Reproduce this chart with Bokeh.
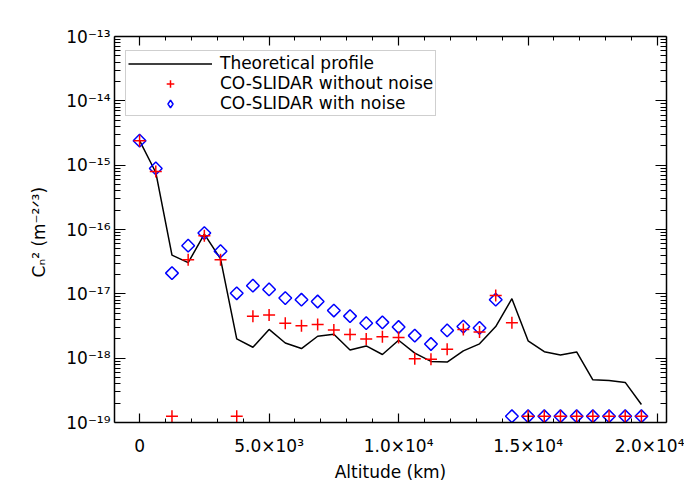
from bokeh.plotting import figure
from bokeh.models import (Range1d, FixedTicker, LogAxis, LinearAxis, Legend, LegendItem,
                          ColumnDataSource, CustomJSTickFormatter)
from bokeh.embed import file_html
from bokeh.resources import INLINE
import math

# ---- data ----
altitude = [0, 625, 1250, 1875, 2500, 3125, 3750, 4375, 5000, 5625, 6250, 6875,
            7500, 8125, 8750, 9375, 10000, 10625, 11250, 11875, 12500, 13125,
            13750, 14375, 15000, 15625, 16250, 16875, 17500, 18125, 18750, 19375]

theoretical = [2.4e-15, 7.7e-16, 4.0e-17, 3.05e-17, 8.5e-17, 3.5e-17, 2.0e-18, 1.48e-18,
               2.8e-18, 1.72e-18, 1.41e-18, 2.19e-18, 2.35e-18, 1.34e-18, 1.55e-18, 1.14e-18,
               1.9e-18, 1.2e-18, 8.9e-19, 8.7e-19, 1.3e-18, 1.67e-18, 3.1e-18, 8.4e-18,
               1.86e-18, 1.26e-18, 1.12e-18, 1.25e-18, 4.6e-19, 4.5e-19, 4.2e-19, 1.9e-19]

without_noise = [2.4e-15, 8.0e-16, 1.25e-19, 3.4e-17, 8.0e-17, 3.4e-17, 1.25e-19, 4.5e-18,
                 4.7e-18, 3.5e-18, 3.2e-18, 3.35e-18, 2.75e-18, 2.33e-18, 1.98e-18, 2.15e-18,
                 2.1e-18, 9.8e-19, 9.6e-19, 1.38e-18, 2.8e-18, 2.55e-18, 9.4e-18, 3.55e-18,
                 1.25e-19, 1.25e-19, 1.25e-19, 1.25e-19, 1.25e-19, 1.25e-19, 1.25e-19, 1.25e-19]

with_noise = [2.4e-15, 8.9e-16, 2.1e-17, 5.6e-17, 8.8e-17, 4.6e-17, 1.02e-17, 1.34e-17,
              1.17e-17, 8.6e-18, 8.1e-18, 7.6e-18, 5.5e-18, 4.5e-18, 3.5e-18, 3.6e-18,
              3.05e-18, 2.24e-18, 1.66e-18, 2.7e-18, 3.1e-18, 2.95e-18, 8.1e-18, 1.25e-19,
              1.25e-19, 1.25e-19, 1.25e-19, 1.25e-19, 1.25e-19, 1.25e-19, 1.25e-19, 1.25e-19]

x_ticks = [0, 5000, 10000, 15000, 20000]
x_tick_labels = ["0", "5.0×10³", "1.0×10⁴", "1.5×10⁴", "2.0×10⁴"]
y_exponents = [-19, -18, -17, -16, -15, -14, -13]
y_tick_labels = ["10⁻¹⁹", "10⁻¹⁸", "10⁻¹⁷", "10⁻¹⁶", "10⁻¹⁵", "10⁻¹⁴", "10⁻¹³"]

FONT = "DejaVu Sans"

src = ColumnDataSource(dict(alt=altitude, th=theoretical, nn=without_noise, wn=with_noise))

p = figure(width=684, height=484, output_backend="svg", toolbar_location=None,
           y_axis_type="log",
           x_range=Range1d(-969, 20344), y_range=Range1d(1e-19, 1e-13),
           min_border_left=114, min_border_right=18, min_border_top=36, min_border_bottom=56)
p.background_fill_color = "white"
p.border_fill_color = "white"
p.outline_line_color = None
p.grid.visible = False

y_major = [10.0 ** e for e in y_exponents]
y_minor = [k * 10.0 ** e for e in y_exponents[:-1] for k in range(2, 10)]
x_minor = [v for v in range(1000, 20000, 1000) if v % 5000 != 0]


def style_axis(ax, horizontal):
    ax.axis_line_color = "black"
    ax.axis_line_width = 1.5
    ax.major_tick_line_color = "black"
    ax.minor_tick_line_color = "black"
    ax.major_tick_line_width = 1.2
    ax.minor_tick_line_width = 1.0
    ax.major_tick_out = 0
    ax.minor_tick_out = 0
    if horizontal:
        ax.major_tick_in = 9
        ax.minor_tick_in = 4
    else:
        ax.major_tick_in = 11
        ax.minor_tick_in = 6
    ax.major_label_text_font = FONT
    ax.major_label_text_font_size = "17px"
    ax.major_label_text_color = "black"
    ax.axis_label_text_font = FONT
    ax.axis_label_text_font_size = "17px"
    ax.axis_label_text_font_style = "normal"
    ax.axis_label_text_color = "black"


# bottom axis
xa = p.xaxis[0]
xa.ticker = FixedTicker(ticks=x_ticks, minor_ticks=x_minor)
xa.major_label_overrides = {t: l for t, l in zip(x_ticks, x_tick_labels)}
xa.axis_label = "Altitude (km)"
style_axis(xa, True)
xa.major_label_standoff = 13
xa.axis_label_standoff = 3

# left axis
ya = p.yaxis[0]
ya.ticker = FixedTicker(ticks=y_major, minor_ticks=y_minor)
ya.major_label_overrides = {t: l for t, l in zip(y_major, y_tick_labels)}
ya.axis_label = "Cₙ²  (m⁻²ᐟ³)"
style_axis(ya, False)
ya.major_label_standoff = 4
ya.axis_label_standoff = 14

# top axis (ticks only)
ta = LinearAxis(ticker=FixedTicker(ticks=x_ticks, minor_ticks=x_minor),
                formatter=CustomJSTickFormatter(code="return ''"))
style_axis(ta, True)
ta.major_label_standoff = 0
p.add_layout(ta, "above")

# right axis (ticks only)
ra = LogAxis(ticker=FixedTicker(ticks=y_major, minor_ticks=y_minor),
             formatter=CustomJSTickFormatter(code="return ''"))
style_axis(ra, False)
ra.major_label_standoff = 0
p.add_layout(ra, "right")

r_line = p.line("alt", "th", source=src, line_color="black", line_width=1.5)
r_wn = p.scatter("alt", "wn", source=src, marker="square", angle=math.pi / 4, size=9,
                 fill_color=None, line_color="#0000ff", line_width=1.5)
r_nn = p.scatter("alt", "nn", source=src, marker="cross", size=12,
                 line_color="#ff0000", line_width=1.5)

# legend-only key glyph for the diamond symbol (legend markers are drawn unrotated);
# it holds a single missing value, so nothing is drawn in the plot area
key_src = ColumnDataSource(dict(alt=[float("nan")], wn=[float("nan")]))
r_wn_key = p.scatter("alt", "wn", source=key_src, marker="diamond", size=9,
                     fill_color=None, line_color="#0000ff", line_width=1.5)

legend = Legend(items=[
    LegendItem(label="Theoretical profile", renderers=[r_line]),
    LegendItem(label="CO-SLIDAR without noise", renderers=[r_nn]),
    LegendItem(label="CO-SLIDAR with noise", renderers=[r_wn_key]),
], location=(11, 306))
legend.margin = 0
legend.padding = 2
legend.spacing = 0
legend.glyph_height = 19
legend.label_height = 19
legend.glyph_width = 84
legend.label_standoff = 8
legend.label_text_font = FONT
legend.label_text_font_size = "17px"
legend.label_text_color = "black"
legend.border_line_color = "#a0a0a0"
legend.border_line_width = 1.5
legend.background_fill_color = "white"
legend.background_fill_alpha = 1.0
p.add_layout(legend, "center")

open("out.html", "w").write(file_html(p, INLINE))
